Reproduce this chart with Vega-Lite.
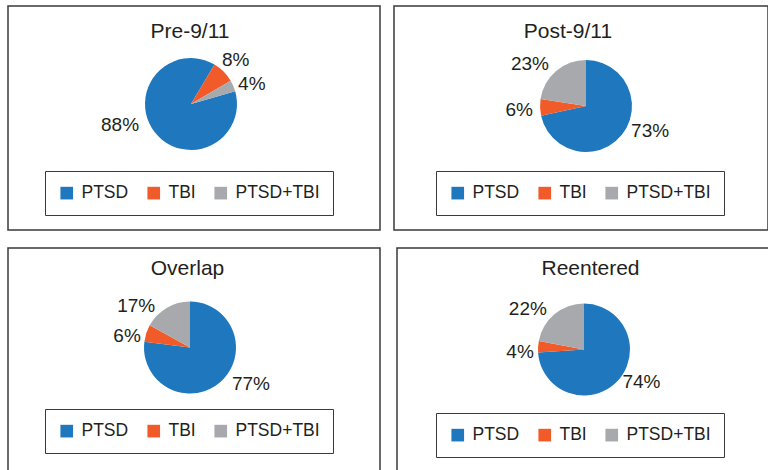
{
  "$schema": "https://vega.github.io/schema/vega-lite/v6.json",
  "padding": {"left": 7, "top": 5, "right": 0, "bottom": 0},
  "autosize": {"type": "pad"},
  "config": {
    "font": "Liberation Sans",
    "view": {"stroke": "#3a3a3a", "strokeWidth": 1.5},
    "title": {"font": "Liberation Sans", "fontSize": 21, "fontWeight": "normal", "color": "#231f20", "anchor": "middle", "baseline": "alphabetic", "frame": "group"},
    "legend": {"labelFont": "Liberation Sans", "orient": "none", "direction": "horizontal", "title": null,
      "symbolType": "square", "symbolSize": 160, "symbolStrokeWidth": 0, "labelFontSize": 17.5, "labelColor": "#231f20",
      "columnPadding": 16, "labelOffset": 6, "padding": 13, "strokeColor": "#3a3a3a"},
    "text": {"fontSize": 19, "fill": "#231f20"}
  },
  "datasets": {
    "d": [
      {"panel": "Pre-9/11", "cat": "PTSD", "k": 1, "value": 0.88},
      {"panel": "Pre-9/11", "cat": "TBI", "k": 2, "value": 0.08},
      {"panel": "Pre-9/11", "cat": "PTSD+TBI", "k": 3, "value": 0.04},
      {"panel": "Post-9/11", "cat": "PTSD", "k": 1, "value": 0.73},
      {"panel": "Post-9/11", "cat": "TBI", "k": 2, "value": 0.06},
      {"panel": "Post-9/11", "cat": "PTSD+TBI", "k": 3, "value": 0.23},
      {"panel": "Overlap", "cat": "PTSD", "k": 1, "value": 0.77},
      {"panel": "Overlap", "cat": "TBI", "k": 2, "value": 0.06},
      {"panel": "Overlap", "cat": "PTSD+TBI", "k": 3, "value": 0.17},
      {"panel": "Reentered", "cat": "PTSD", "k": 1, "value": 0.74},
      {"panel": "Reentered", "cat": "TBI", "k": 2, "value": 0.04},
      {"panel": "Reentered", "cat": "PTSD+TBI", "k": 3, "value": 0.22}
    ]
  },
  "spacing": 16,
  "resolve": {"scale": {"color": "independent", "theta": "independent"}, "legend": {"color": "independent"}},
  "vconcat": [
    {
      "spacing": 12,
      "resolve": {"scale": {"color": "independent", "theta": "independent"}, "legend": {"color": "independent"}},
      "hconcat": [
        {
          "width": 372, "height": 224,
          "view": {"stroke": "#3a3a3a", "strokeWidth": 1.5},
          "title": {"text": "Pre-9/11", "offset": -36, "dx": -4},
          "data": {"name": "d"},
          "transform": [{"filter": "datum.panel === 'Pre-9/11'"}],
          "encoding": {
            "theta": {"field": "value", "type": "quantitative", "stack": true, "scale": {"range": [1.29, 7.5732]}},
            "order": {"field": "k", "type": "quantitative", "sort": "ascending"}
          },
          "layer": [
            {
              "mark": {"type": "arc", "outerRadius": 46, "xOffset": -3, "yOffset": -14},
              "encoding": {
                "color": {"field": "cat", "type": "nominal", "sort": ["PTSD", "TBI", "PTSD+TBI"],
                  "scale": {"domain": ["PTSD", "TBI", "PTSD+TBI"], "range": ["#1f77be", "#f15a29", "#a7a9ac"]},
                  "legend": {"legendX": 37, "legendY": 165,
                    "encode": {"symbols": {"update": {"fill": {"signal": "datum.value === 'PTSD' ? '#0b5cb4' : datum.value === 'TBI' ? '#f7931e' : '#a7a9ac'"}}}}}
                }
              }
            },
            {
              "mark": {"type": "text", "radius": 74, "thetaOffset": 0.37, "xOffset": -3, "yOffset": -14},
              "encoding": {"text": {"condition": {"test": "datum.cat === 'PTSD'", "field": "value", "type": "quantitative", "format": ".0%"}, "value": ""}}
            },
            {
              "mark": {"type": "text", "radius": 63, "thetaOffset": 0, "xOffset": -3, "yOffset": -14},
              "encoding": {"text": {"condition": {"test": "datum.cat === 'TBI'", "field": "value", "type": "quantitative", "format": ".0%"}, "value": ""}}
            },
            {
              "mark": {"type": "text", "radius": 64, "thetaOffset": 0.09, "xOffset": -3, "yOffset": -14},
              "encoding": {"text": {"condition": {"test": "datum.cat === 'PTSD+TBI'", "field": "value", "type": "quantitative", "format": ".0%"}, "value": ""}}
            }
          ]
        },
        {
          "width": 374, "height": 224,
          "view": {"stroke": "#3a3a3a", "strokeWidth": 1.5},
          "title": {"text": "Post-9/11", "offset": -36, "dx": -13},
          "data": {"name": "d"},
          "transform": [{"filter": "datum.panel === 'Post-9/11'"}],
          "encoding": {
            "theta": {"field": "value", "type": "quantitative", "stack": true},
            "order": {"field": "k", "type": "quantitative", "sort": "ascending"}
          },
          "layer": [
            {
              "mark": {"type": "arc", "outerRadius": 46, "xOffset": 5, "yOffset": -12},
              "encoding": {
                "color": {"field": "cat", "type": "nominal", "sort": ["PTSD", "TBI", "PTSD+TBI"],
                  "scale": {"domain": ["PTSD", "TBI", "PTSD+TBI"], "range": ["#1f77be", "#f15a29", "#a7a9ac"]},
                  "legend": {"legendX": 42, "legendY": 165,
                    "encode": {"symbols": {"update": {"fill": {"signal": "datum.value === 'PTSD' ? '#0b5cb4' : datum.value === 'TBI' ? '#f7931e' : '#a7a9ac'"}}}}}
                }
              }
            },
            {
              "mark": {"type": "text", "radius": 69, "thetaOffset": -0.30, "xOffset": 5, "yOffset": -12},
              "encoding": {"text": {"condition": {"test": "datum.cat === 'PTSD'", "field": "value", "type": "quantitative", "format": ".0%"}, "value": ""}}
            },
            {
              "mark": {"type": "text", "radius": 67, "thetaOffset": -0.03, "xOffset": 5, "yOffset": -12},
              "encoding": {"text": {"condition": {"test": "datum.cat === 'TBI'", "field": "value", "type": "quantitative", "format": ".0%"}, "value": ""}}
            },
            {
              "mark": {"type": "text", "radius": 70, "thetaOffset": -0.22, "xOffset": 5, "yOffset": -12},
              "encoding": {"text": {"condition": {"test": "datum.cat === 'PTSD+TBI'", "field": "value", "type": "quantitative", "format": ".0%"}, "value": ""}}
            }
          ]
        }
      ]
    },
    {
      "spacing": 15,
      "resolve": {"scale": {"color": "independent", "theta": "independent"}, "legend": {"color": "independent"}},
      "hconcat": [
        {
          "width": 372, "height": 225,
          "view": {"stroke": "#3a3a3a", "strokeWidth": 1.5},
          "title": {"text": "Overlap", "offset": -31, "dx": -6.5},
          "data": {"name": "d"},
          "transform": [{"filter": "datum.panel === 'Overlap'"}],
          "encoding": {
            "theta": {"field": "value", "type": "quantitative", "stack": true},
            "order": {"field": "k", "type": "quantitative", "sort": "ascending"}
          },
          "layer": [
            {
              "mark": {"type": "arc", "outerRadius": 46, "xOffset": -4, "yOffset": -13},
              "encoding": {
                "color": {"field": "cat", "type": "nominal", "sort": ["PTSD", "TBI", "PTSD+TBI"],
                  "scale": {"domain": ["PTSD", "TBI", "PTSD+TBI"], "range": ["#1f77be", "#f15a29", "#a7a9ac"]},
                  "legend": {"legendX": 37, "legendY": 161,
                    "encode": {"symbols": {"update": {"fill": {"signal": "datum.value === 'PTSD' ? '#0b5cb4' : datum.value === 'TBI' ? '#f7931e' : '#a7a9ac'"}}}}}
                }
              }
            },
            {
              "mark": {"type": "text", "radius": 71, "thetaOffset": -0.31, "xOffset": -4, "yOffset": -13},
              "encoding": {"text": {"condition": {"test": "datum.cat === 'PTSD'", "field": "value", "type": "quantitative", "format": ".0%"}, "value": ""}}
            },
            {
              "mark": {"type": "text", "radius": 64, "thetaOffset": -0.13, "xOffset": -4, "yOffset": -13},
              "encoding": {"text": {"condition": {"test": "datum.cat === 'TBI'", "field": "value", "type": "quantitative", "format": ".0%"}, "value": ""}}
            },
            {
              "mark": {"type": "text", "radius": 68, "thetaOffset": -0.38, "xOffset": -4, "yOffset": -13},
              "encoding": {"text": {"condition": {"test": "datum.cat === 'PTSD+TBI'", "field": "value", "type": "quantitative", "format": ".0%"}, "value": ""}}
            }
          ]
        },
        {
          "width": 374, "height": 225,
          "view": {"stroke": "#3a3a3a", "strokeWidth": 1.5},
          "title": {"text": "Reentered", "offset": -31, "dx": 6.5},
          "data": {"name": "d"},
          "transform": [{"filter": "datum.panel === 'Reentered'"}],
          "encoding": {
            "theta": {"field": "value", "type": "quantitative", "stack": true},
            "order": {"field": "k", "type": "quantitative", "sort": "ascending"}
          },
          "layer": [
            {
              "mark": {"type": "arc", "outerRadius": 46, "xOffset": 0, "yOffset": -11},
              "encoding": {
                "color": {"field": "cat", "type": "nominal", "sort": ["PTSD", "TBI", "PTSD+TBI"],
                  "scale": {"domain": ["PTSD", "TBI", "PTSD+TBI"], "range": ["#1f77be", "#f15a29", "#a7a9ac"]},
                  "legend": {"legendX": 39, "legendY": 165,
                    "encode": {"symbols": {"update": {"fill": {"signal": "datum.value === 'PTSD' ? '#0b5cb4' : datum.value === 'TBI' ? '#f7931e' : '#a7a9ac'"}}}}}
                }
              }
            },
            {
              "mark": {"type": "text", "radius": 66, "thetaOffset": -0.24, "xOffset": 0, "yOffset": -11},
              "encoding": {"text": {"condition": {"test": "datum.cat === 'PTSD'", "field": "value", "type": "quantitative", "format": ".0%"}, "value": ""}}
            },
            {
              "mark": {"type": "text", "radius": 64, "thetaOffset": -0.10, "xOffset": 0, "yOffset": -11},
              "encoding": {"text": {"condition": {"test": "datum.cat === 'TBI'", "field": "value", "type": "quantitative", "format": ".0%"}, "value": ""}}
            },
            {
              "mark": {"type": "text", "radius": 69, "thetaOffset": -0.26, "xOffset": 0, "yOffset": -11},
              "encoding": {"text": {"condition": {"test": "datum.cat === 'PTSD+TBI'", "field": "value", "type": "quantitative", "format": ".0%"}, "value": ""}}
            }
          ]
        }
      ]
    }
  ]
}
